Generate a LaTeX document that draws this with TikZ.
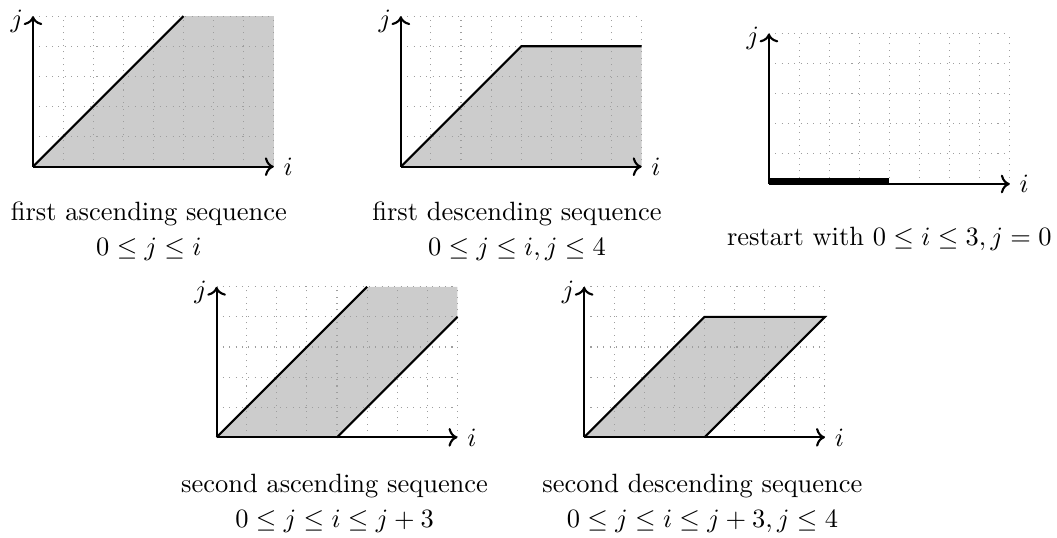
\documentclass[tikz,border=0pt]{standalone}
\usepackage{xcolor}
\usepackage{tikz}
\usetikzlibrary{positioning, arrows.meta, calc}
\definecolor{regiongray}{gray}{0.8}
\definecolor{gridgray}{gray}{0.62}

\tikzset{
  gridline/.style={gridgray, dotted, line width=0.4pt, step=0.4cm},
  axis/.style={->, thick},
  bound/.style={thick},
  region/.style={fill=regiongray},
  caption/.style={align=center, anchor=north},
}

% grid and both axes of one plot, #1 names the labels
\newcommand{\ijplot}[1]{%
  \draw[gridline] (0,0) grid (8,5);
  \draw[axis] (0,0) -- (8,0) node[right] (i#1) {$i$};
  \draw[axis] (0,0) -- (0,5) node[left, yshift=-2pt] (j#1) {$j$};
}

\begin{document}
\begin{tikzpicture}[x=0.4cm, y=0.4cm]
  \useasboundingbox (-1.096,-12.335) rectangle (34.02,5.538);

  % first ascending
  \begin{scope}
    \fill[region] (0,0) -- (5,5) -- (8,5) -- (8,0) -- cycle;
    \ijplot{1}
    \draw[bound] (0,0) -- (5,5);
  \end{scope}
  \node[caption] (cap1) at (3.85,-0.867) {first ascending sequence\\[1.2pt]$0 \le j \le i$};

  % first descending
  \begin{scope}[shift={(12.22,0)}]
    \fill[region] (0,0) -- (4,4) -- (8,4) -- (8,0) -- cycle;
    \ijplot{2}
    \draw[bound] (0,0) -- (4,4) -- (8,4);
  \end{scope}
  \node[caption] (cap2) at (16.08,-0.867) {first descending sequence\\[1.2pt]$0 \le j \le i, j \le 4$};

  % restart
  \begin{scope}[shift={(24.45,-0.575)}]
    \ijplot{3}
    \fill (0,-0.03) rectangle (4,0.2);
  \end{scope}
  \node[caption] (cap3) at (28.45,-1.697) {restart with $0 \le i \le 3, j = 0$};

  % second ascending
  \begin{scope}[shift={(6.10,-8.99)}]
    \fill[region] (0,0) -- (5,5) -- (8,5) -- (8,4) -- (4,0) -- cycle;
    \ijplot{4}
    \draw[bound] (0,0) -- (5,5);
    \draw[bound] (4,0) -- (8,4);
  \end{scope}
  \node[caption] (cap4) at (10.02,-9.897) {second ascending sequence\\[1.2pt]$0 \le j \le i \le j + 3$};

  % second descending
  \begin{scope}[shift={(18.31,-8.99)}]
    \fill[region] (0,0) -- (4,4) -- (8,4) -- (4,0) -- cycle;
    \ijplot{5}
    \draw[bound] (0,0) -- (4,4) -- (8,4) -- (4,0);
  \end{scope}
  \node[caption] (cap5) at (22.24,-9.897) {second descending sequence\\[1.2pt]$0 \le j \le i \le j + 3, j \le 4$};
\end{tikzpicture}
\end{document}
